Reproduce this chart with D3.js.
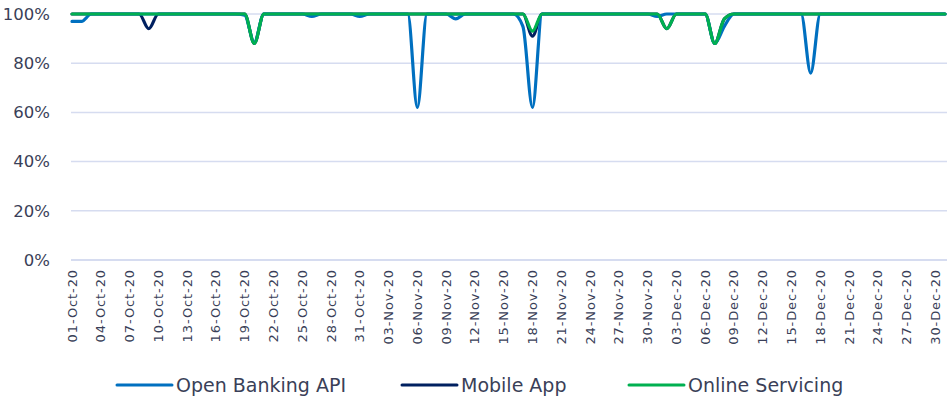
<!DOCTYPE html>
<html>
<head>
<meta charset="utf-8">
<script src="https://cdn.jsdelivr.net/npm/d3@7"></script>
<style>
  body { margin: 0; background: #fff; }
  svg text { font-family: "DejaVu Sans", sans-serif; fill: #3a3f58; }
</style>
</head>
<body>
<svg id="chart" width="947" height="404"></svg>
<script>
// data: daily availability, 01-Oct-20 .. 31-Dec-20
const startDate = new Date(2020, 9, 1);
const dayCount = 92;

// dips only, every other day is 100%
const openBankingDips = { 0: 97, 1: 97, 18: 99.5, 19: 88.5, 25: 99, 30: 99, 36: 62, 40: 98, 47: 95, 48: 62, 61: 99, 67: 88, 68: 95, 77: 76 };
const mobileAppDips = { 8: 94, 19: 88, 48: 91, 62: 94, 67: 88, 68: 98 };
const onlineServicingDips = { 19: 88, 48: 93, 62: 94, 67: 88, 68: 98 };

const seriesNames = ["Open Banking API", "Mobile App", "Online Servicing"];
const seriesColors = ["#0070c0", "#002060", "#00b050"];
const drawOrder = [1, 0, 2];
const yTicks = [0, 20, 40, 60, 80, 100];

function buildSeries(dips) {
  const out = [];
  for (let i = 0; i < dayCount; i++) out.push(dips[i] !== undefined ? dips[i] : 100);
  return out;
}
const allSeries = [buildSeries(openBankingDips), buildSeries(mobileAppDips), buildSeries(onlineServicingDips)];

const svg = d3.select("#chart");
const plotLeft = 71, plotRight = 947, plotTop = 14, plotBottom = 260;

const x = d3.scaleLinear().domain([0, dayCount - 1]).range([72, 945]);
const y = d3.scaleLinear().domain([0, 100]).range([plotBottom, plotTop]);

// gridlines
svg.append("g").selectAll("line").data(yTicks).join("line")
  .attr("x1", plotLeft).attr("x2", plotRight)
  .attr("y1", d => y(d)).attr("y2", d => y(d))
  .attr("stroke", "#d6dcf0").attr("stroke-width", d => d === 0 ? 2 : 1.5);

// y labels
svg.append("g").selectAll("text").data(yTicks).join("text")
  .attr("x", 50).attr("y", d => y(d)).attr("dy", "0.35em")
  .attr("text-anchor", "end").attr("font-size", 16.5)
  .text(d => d + "%");

// x labels every 3 days
const fmt = d3.timeFormat("%d-%b-%y");
const labelIdx = d3.range(0, dayCount, 3);
svg.append("g").selectAll("text").data(labelIdx).join("text")
  .attr("transform", i => `translate(${x(i) + 4.5},269) rotate(-90)`)
  .attr("text-anchor", "end").attr("font-size", 13).attr("letter-spacing", 0.9)
  .text(i => fmt(d3.timeDay.offset(startDate, i)));

// lines (navy underneath, green on top)
const line = d3.line().x((d, i) => x(i)).y(d => y(d)).curve(d3.curveMonotoneX);
svg.append("g").selectAll("path").data(drawOrder).join("path")
  .attr("d", k => line(allSeries[k])).attr("fill", "none")
  .attr("stroke", k => seriesColors[k]).attr("stroke-width", 3.2)
  .attr("stroke-linejoin", "round").attr("stroke-linecap", "round");

// legend
const legendX = [117, 402, 629];
const leg = svg.append("g").selectAll("g").data(seriesNames).join("g")
  .attr("transform", (d, i) => `translate(${legendX[i]},385)`);
leg.append("line").attr("x1", 0).attr("x2", 55).attr("y1", 0).attr("y2", 0)
  .attr("stroke", (d, i) => seriesColors[i]).attr("stroke-width", 3).attr("stroke-linecap", "round");
leg.append("text").attr("x", 59).attr("dy", "0.35em").attr("font-size", 19).text(d => d);
</script>
</body>
</html>
